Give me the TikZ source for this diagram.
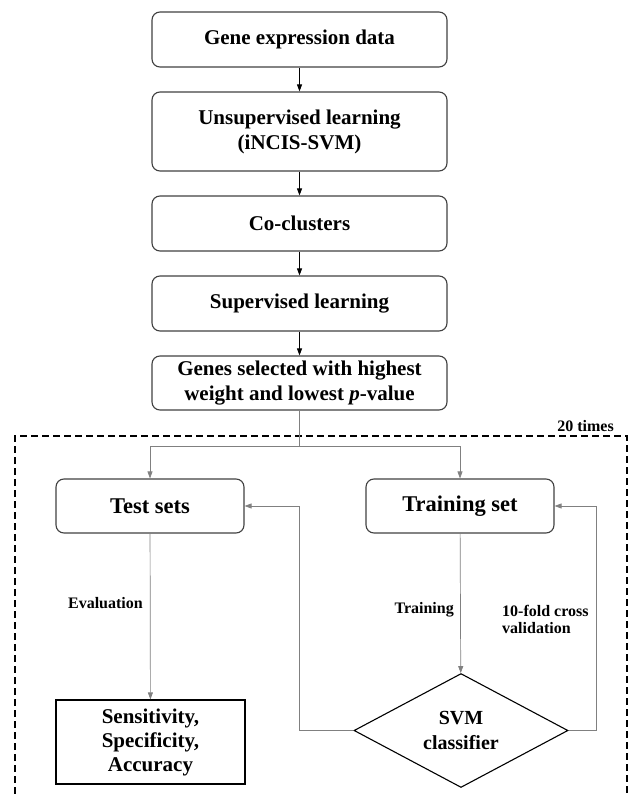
\documentclass[tikz,border=0pt]{standalone}
\usepackage{fontspec}
\setmainfont{Liberation Serif}
\usetikzlibrary{shapes.geometric,arrows.meta,positioning}
\tikzset
{
    procbox/.style = {rectangle, rounded corners=8pt, draw=black!75, line width=1.1pt, align=center, inner sep=2pt, minimum width=295pt, font=\fontsize{21}{25}\selectfont\bfseries},
    setbox/.style  = {rectangle, rounded corners=8pt, draw=black!75, line width=1.1pt, align=center, minimum height=54pt, font=\fontsize{22.5}{26}\selectfont\bfseries},
    resultbox/.style = {rectangle, draw=black, line width=1.1pt, align=center, minimum width=189pt, minimum height=84pt, inner sep=2pt, font=\fontsize{21}{24}\selectfont\bfseries},
    decision/.style = {diamond, draw=black, line width=1.1pt, align=center, minimum width=214pt, minimum height=107pt, inner sep=0pt, font=\fontsize{20}{25}\selectfont\bfseries},
    edgelabel/.style = {align=left, text=black, inner sep=0pt, font=\fontsize{16}{17}\selectfont\bfseries},
    flow/.style = {-{Triangle[length=7pt,width=5pt]}, line width=0.8pt, black},
    loop/.style = {-{Triangle[length=7pt,width=5pt]}, line width=0.7pt, black!50}
}

\begin{document}
\begin{tikzpicture}[x=1pt,y=-1pt]
\useasboundingbox (0,0) rectangle (630,794);

% upper chain
\node[procbox, minimum height=55pt] (gene) at (299.5,39.5) {Gene expression data};
\node[procbox, minimum height=79pt] (unsup) at (299.5,131.5) {Unsupervised learning\\(iNCIS-SVM)};
\node[procbox, minimum height=55pt] (cocl) at (299.5,223.5) {Co-clusters};
\node[procbox, minimum height=55pt] (sup) at (299.5,303.5) {Supervised learning};
\node[procbox, minimum height=54pt] (genes) at (299.5,383) {Genes selected with highest\\weight and lowest \textit{p}-value};

\draw[flow] (gene) -- (unsup);
\draw[flow] (unsup) -- (cocl);
\draw[flow] (cocl) -- (sup);
\draw[flow] (sup) -- (genes);

% repeated part
\draw[dashed, dash pattern=on 7pt off 4pt, line width=1.4pt] (15,794) -- (15,436) -- (627,436) -- (627,794);
\node[edgelabel, anchor=base east] (times) at (614,431) {20 times};

\node[setbox, minimum width=188pt] (test) at (150,506) {Test sets};
\node[setbox, minimum width=188pt] (train) at (460,506) {Training set};
\node[resultbox] (result) at (150.5,742) {Sensitivity,\\Specificity,\\Accuracy};
\node[decision] (svm) at (461,730.5) {SVM\\classifier};

\coordinate (split) at (299.5,446);
\coordinate (lbend) at (299,730.5);
\coordinate (rbend) at (596,730.5);

\draw[line width=0.7pt, black!50] (genes) -- (split);
\draw[loop] (split) -| (test);
\draw[loop] (split) -| (train);
\draw[loop] (test) -- (result);
\draw[loop] (train) -- (svm);
\draw[loop] (svm.west) -- (lbend) |- (test.east);
\draw[loop] (svm.east) -- (rbend) |- (train.east);

% labels
\node[edgelabel, anchor=base east] (evallab) at (143,608) {Evaluation};
\node[edgelabel, anchor=base east] (trainlab) at (454,613) {Training};
\node[edgelabel, anchor=north west] (cvlab) at (502,605) {10-fold cross\\validation};
\end{tikzpicture}
\end{document}
